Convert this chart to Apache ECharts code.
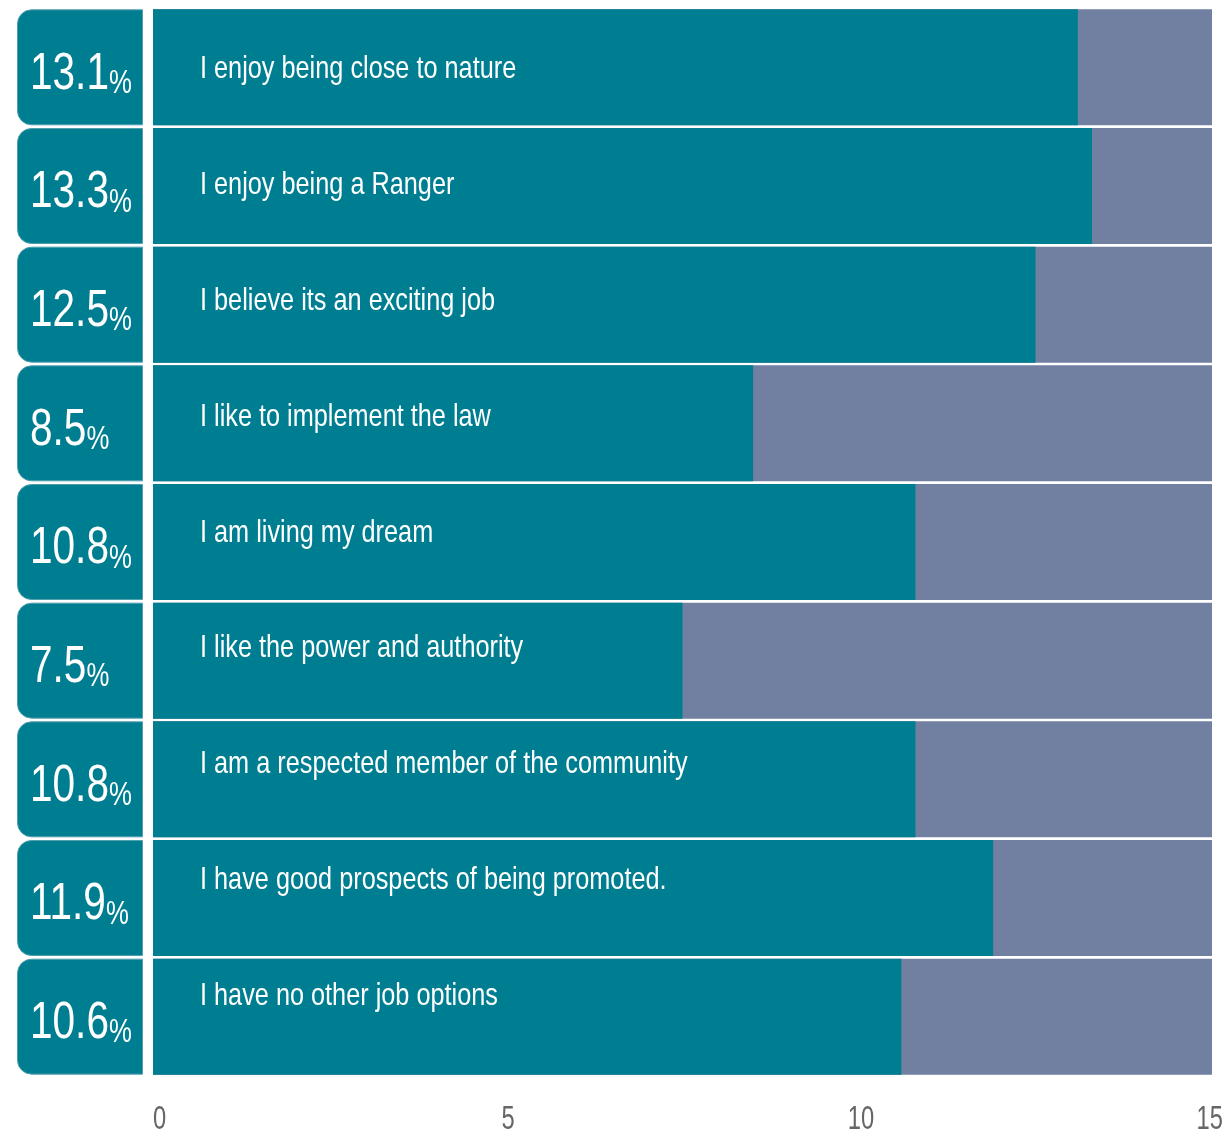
<!DOCTYPE html>
<html>
<head>
<meta charset="utf-8">
<script src="https://cdn.jsdelivr.net/npm/echarts@6/dist/echarts.min.js"></script>
<style>
  html, body { margin: 0; padding: 0; background: #ffffff; }
  #chart { width: 1229px; height: 1137px; }
</style>
</head>
<body>
<div id="chart"></div>
<script>
// Reasons for working as a ranger (share of responses, %)
const reasons = [
  'I enjoy being close to nature',
  'I enjoy being a Ranger',
  'I believe its an exciting job',
  'I like to implement the law',
  'I am living my dream',
  'I like the power and authority',
  'I am a respected member of the community',
  'I have good prospects of being promoted.',
  'I have no other job options'
];
const shares = [13.1, 13.3, 12.5, 8.5, 10.8, 7.5, 10.8, 11.9, 10.6];
const axisTicks = [0, 5, 10, 15];

const TEAL = '#007E91';
const SLATE = '#717FA1';
const FONT = '"Liberation Sans", Arial, sans-serif';
// no narrow face is installed, so text is condensed horizontally
const NARROW = 0.79;
const NARROW_TAB = 0.78;

const chart = echarts.init(document.getElementById('chart'), null, { renderer: 'canvas' });

const axisMax = axisTicks[axisTicks.length - 1];
const axisStep = axisTicks[1] - axisTicks[0];
const lastRow = reasons.length - 1;

chart.setOption({
  animation: false,
  backgroundColor: '#ffffff',
  grid: [
    { left: 153, right: 17, top: 8, bottom: 61, containLabel: false },
    { left: 17, width: 126, top: 8, bottom: 61, containLabel: false }
  ],
  xAxis: [
    {
      gridIndex: 0,
      type: 'value',
      min: axisTicks[0],
      max: axisMax,
      interval: axisStep,
      axisLine: { show: false },
      axisTick: { show: false },
      splitLine: { show: false },
      axisLabel: { show: false }
    },
    { gridIndex: 1, type: 'value', min: 0, max: 1, show: false }
  ],
  yAxis: [
    { gridIndex: 0, type: 'category', data: reasons, inverse: true, show: false },
    { gridIndex: 1, type: 'category', data: reasons, inverse: true, show: false }
  ],
  series: [
    {
      // teal bar = share, slate background = rest of the axis range
      type: 'bar',
      xAxisIndex: 0,
      yAxisIndex: 0,
      barWidth: 116,
      showBackground: true,
      backgroundStyle: { color: SLATE },
      itemStyle: { color: TEAL },
      data: shares
    },
    {
      // rounded tabs on the left
      type: 'bar',
      xAxisIndex: 1,
      yAxisIndex: 1,
      barWidth: 116,
      itemStyle: {
        color: TEAL,
        borderRadius: [14, 0, 0, 14],
        borderColor: '#4f9fad',
        borderWidth: 1
      },
      data: shares.map(() => 1)
    },
    {
      // reason text inside each bar
      type: 'custom',
      xAxisIndex: 0,
      yAxisIndex: 0,
      clip: false,
      z: 5,
      data: reasons.map((r, i) => [0, i]),
      renderItem: (params, api) => {
        const i = api.value(1);
        const pt = api.coord([0, i]);
        const band = api.size([0, 1])[1];
        const top = pt[1] - band / 2;
        return {
          type: 'text',
          x: pt[0] + 47,
          y: top + 61.5 - 2.85 * i,
          scaleX: NARROW,
          style: {
            text: reasons[i],
            fill: '#ffffff',
            font: '32px ' + FONT,
            align: 'left',
            verticalAlign: 'middle'
          }
        };
      }
    },
    {
      // percentage in each tab
      type: 'custom',
      xAxisIndex: 1,
      yAxisIndex: 1,
      clip: false,
      z: 5,
      data: shares.map((v, i) => [0, i]),
      renderItem: (params, api) => {
        const i = api.value(1);
        const pt = api.coord([0, i]);
        return {
          type: 'text',
          x: pt[0] + 13,
          y: pt[1] + 5,
          scaleX: NARROW_TAB,
          style: {
            text: '{num|' + shares[i].toFixed(1) + '}{pct|%}',
            align: 'left',
            verticalAlign: 'middle',
            rich: {
              num: {
                fill: '#ffffff',
                fontFamily: FONT,
                fontSize: 52,
                lineHeight: 56,
                verticalAlign: 'bottom'
              },
              pct: {
                fill: '#ffffff',
                fontFamily: FONT,
                fontSize: 33,
                lineHeight: 44,
                verticalAlign: 'bottom'
              }
            }
          }
        };
      }
    },
    {
      // value axis tick labels
      type: 'custom',
      xAxisIndex: 0,
      yAxisIndex: 0,
      clip: false,
      z: 5,
      data: axisTicks.map((t) => [t, lastRow]),
      renderItem: (params, api) => {
        const t = api.value(0);
        const pt = api.coord([t, lastRow]);
        const band = api.size([0, 1])[1];
        const first = params.dataIndex === 0;
        const last = params.dataIndex === axisTicks.length - 1;
        return {
          type: 'text',
          x: first ? pt[0] : last ? pt[0] + 11 : pt[0] + 2,
          y: pt[1] + band / 2 + 44,
          scaleX: 0.72,
          style: {
            text: String(t),
            fill: '#666666',
            font: '33px ' + FONT,
            align: first ? 'left' : last ? 'right' : 'center',
            verticalAlign: 'middle'
          }
        };
      }
    }
  ]
});
</script>
</body>
</html>
